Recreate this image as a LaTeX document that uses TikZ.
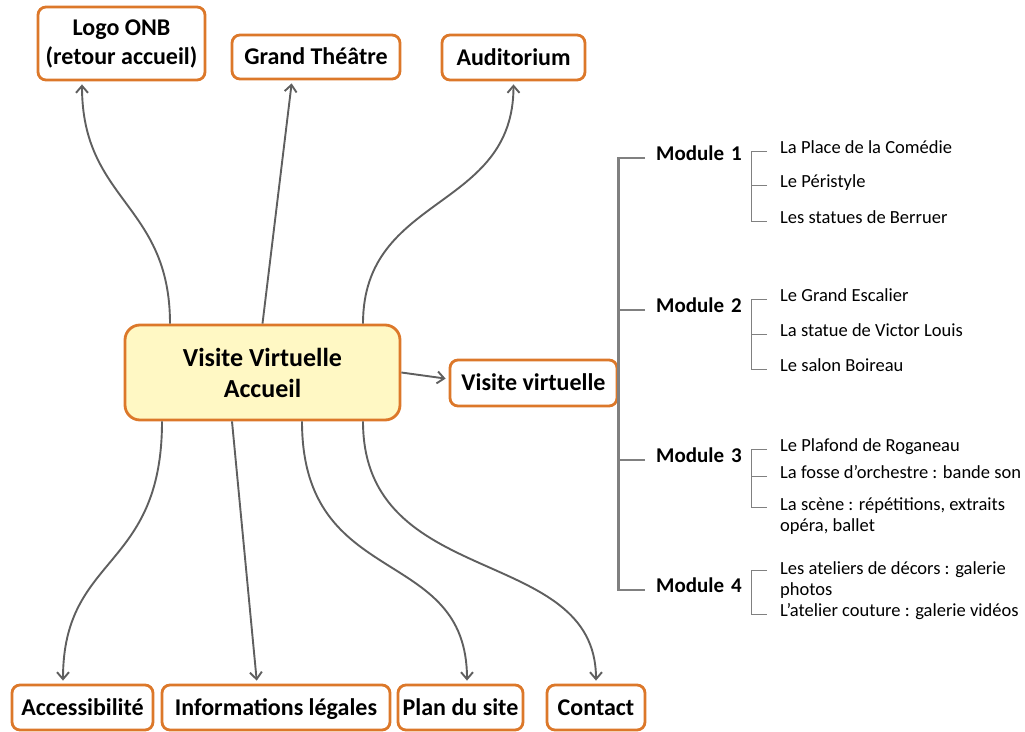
\documentclass[tikz,border=0pt]{standalone}
\usepackage{fontspec}
\setmainfont{Carlito}
\usetikzlibrary{arrows.meta,positioning,calc}

\definecolor{boxorange}{RGB}{220,120,42}
\definecolor{hubyellow}{RGB}{255,248,196}
\definecolor{arrowgray}{RGB}{95,95,95}
\definecolor{treegray}{RGB}{128,128,128}

\tikzset{
  box/.style={draw=boxorange, line width=2.8pt, rounded corners=8pt, fill=white,
    align=center, inner sep=0pt, font=\bfseries\fontsize{24}{29}\selectfont},
  single/.style={box, text height=19pt, text depth=4pt},
  hub/.style={box, fill=hubyellow, rounded corners=15pt,
    font=\bfseries\fontsize{26}{31}\selectfont},
  link/.style={-{Straight Barb[length=7pt,width=12pt]}, line width=1.9pt,
    draw=arrowgray, shorten >=3pt},
  module/.style={anchor=mid west, inner xsep=11pt, inner ysep=0pt, text width=84pt,
    font=\bfseries\fontsize{21}{25}\selectfont},
  item/.style={anchor=mid west, inner xsep=13pt, inner ysep=0pt, align=left,
    font=\fontsize{18.5}{21}\selectfont},
  item2/.style={item, anchor=north west},
  trunk/.style={draw=treegray, line width=2.2pt},
  twig/.style={draw=treegray, line width=1pt}
}

\begin{document}
\begin{tikzpicture}[x=1pt, y=-1pt]
    \useasboundingbox (0,0) rectangle (1025,731);

    % centre
    \node[hub, minimum width=275pt, minimum height=95pt] (hub) at (262.5,372.5) {Visite Virtuelle\\Accueil};

    % top boxes
    \node[box, minimum width=167pt, minimum height=73pt] (logo) at (121.5,43.5) {Logo ONB\\(retour accueil)};
    \node[single, minimum width=168pt, minimum height=44pt] (grand) at (316,57) {Grand Théâtre};
    \node[single, minimum width=143pt, minimum height=45pt] (audi) at (513.5,57.5) {Auditorium};

    % bottom boxes
    \node[single, minimum width=141pt, minimum height=45pt] (access) at (82.5,707.5) {Accessibilité};
    \node[single, minimum width=228pt, minimum height=45pt] (infos) at (276,707.5) {Informations légales};
    \node[single, minimum width=125pt, minimum height=45pt] (plan) at (460.5,707.5) {Plan du site};
    \node[single, minimum width=98pt, minimum height=45pt] (contact) at (596,707.5) {Contact};

    \node[single, minimum width=167pt, minimum height=46pt] (vv) at (533.5,383) {Visite virtuelle};

    % arrows up
    \draw[link] ([xshift=-92.5pt]hub.north) .. controls +(0,-120) and +(0,120) .. ([xshift=-39.5pt]logo.south);
    \draw[link] (hub.north) -- ([xshift=-24pt]grand.south);
    \draw[link] ([xshift=100.5pt]hub.north) .. controls +(0,-130) and +(0,130) .. (audi.south);

    % arrows down
    \draw[link] ([xshift=-100.5pt]hub.south) .. controls +(0,150) and +(0,-130) .. ([xshift=-19.5pt]access.north);
    \draw[link] ([xshift=-30.5pt]hub.south) -- ([xshift=-19pt]infos.north);
    \draw[link] ([xshift=39.5pt]hub.south) .. controls +(0,170) and +(0,-140) .. ([xshift=6.5pt]plan.north);
    \draw[link] ([xshift=100.5pt]hub.south) .. controls +(0,170) and +(0,-140) .. (contact.north);
    \draw[link] (hub.east) -- ([yshift=4pt]vv.west);

    % modules
    \node[module] (m1) at (645,158) {Module~1};
    \node[module] (m2) at (645,310) {Module~2};
    \node[module] (m3) at (645,460) {Module~3};
    \node[module] (m4) at (645,590) {Module~4};

    \node[item] (i11) at (767,151) {La Place de la Comédie};
    \node[item] (i12) at (767,185) {Le Péristyle};
    \node[item] (i13) at (767,221) {Les statues de Berruer};

    \node[item] (i21) at (767,299) {Le Grand Escalier};
    \node[item] (i22) at (767,334) {La statue de Victor Louis};
    \node[item] (i23) at (767,369) {Le salon Boireau};

    \node[item] (i31) at (767,449) {Le Plafond de Roganeau};
    \node[item] (i32) at (767,476) {La fosse d’orchestre : bande son};
    \node[item2] (i33) at (767,498) {La scène : répétitions, extraits\\opéra, ballet};

    \node[item2] (i41) at (767,561) {Les ateliers de décors : galerie\\photos};
    \node[item] (i42) at (767,614) {L’atelier couture : galerie vidéos};

    % tree
    \draw[trunk] (m1.mid west) -- (m1.mid west -| vv.east) -- (m4.mid west -| vv.east) -- (m4.mid west);
    \draw[trunk] (m2.mid west) -- (m2.mid west -| vv.east);
    \draw[trunk] (m3.mid west) -- (m3.mid west -| vv.east);

    \draw[twig] (i11.mid west) -| (m1.east) |- (i13.mid west);
    \draw[twig] (i12.mid west) -- (i12.mid west -| m1.east);
    \draw[twig] (i21.mid west) -| (m2.east) |- (i23.mid west);
    \draw[twig] (i22.mid west) -- (i22.mid west -| m2.east);
    \draw[twig] (i31.mid west) -| (m3.east) |- ([yshift=-9pt]i33.north west);
    \draw[twig] (i32.mid west) -- (i32.mid west -| m3.east);
    \draw[twig] ([yshift=-9pt]i41.north west) -| (m4.east) |- (i42.mid west);
\end{tikzpicture}
\end{document}
